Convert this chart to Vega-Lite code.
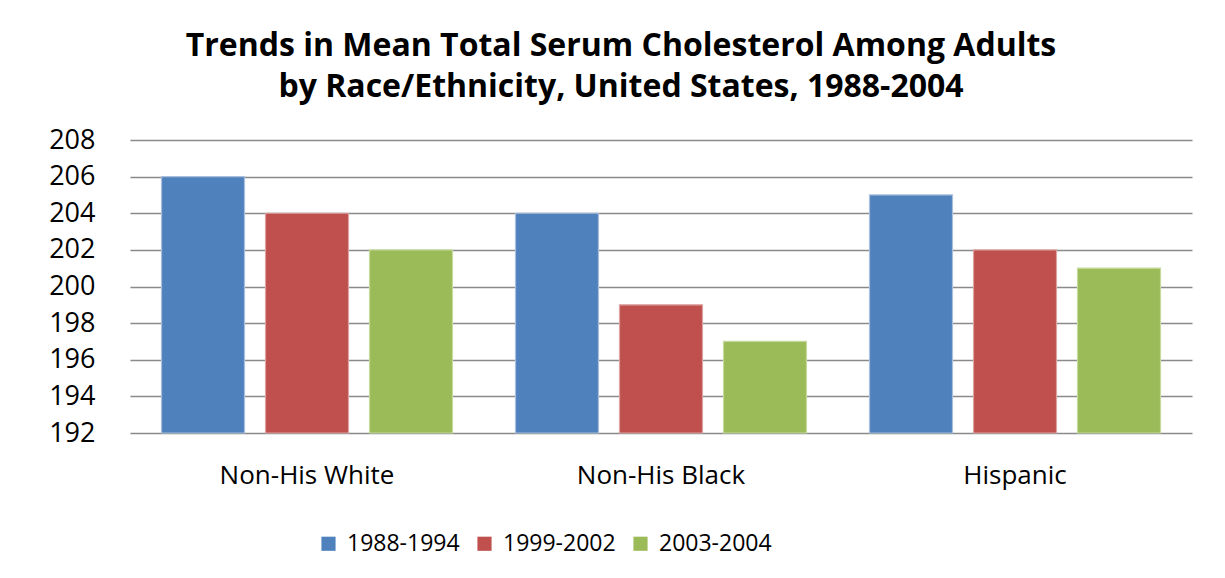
{
  "$schema": "https://vega.github.io/schema/vega-lite/v6.json",
  "autosize": "none",
  "width": 1062,
  "height": 293,
  "padding": {"left": 130, "top": 140, "right": 33, "bottom": 145},
  "background": "white",
  "title": {
    "text": ["Trends in Mean Total Serum Cholesterol Among Adults", "by Race/Ethnicity, United States, 1988-2004"],
    "font": "Open Sans",
    "fontSize": 32,
    "fontWeight": "bold",
    "color": "#000000",
    "anchor": "middle",
    "frame": "group",
    "dx": -40,
    "lineHeight": 41,
    "offset": 22
  },
  "data": {
    "values": [
      {"group": "Non-His White", "period": "1988-1994", "value": 206},
      {"group": "Non-His White", "period": "1999-2002", "value": 204},
      {"group": "Non-His White", "period": "2003-2004", "value": 202},
      {"group": "Non-His Black", "period": "1988-1994", "value": 204},
      {"group": "Non-His Black", "period": "1999-2002", "value": 199},
      {"group": "Non-His Black", "period": "2003-2004", "value": 197},
      {"group": "Hispanic", "period": "1988-1994", "value": 205},
      {"group": "Hispanic", "period": "1999-2002", "value": 202},
      {"group": "Hispanic", "period": "2003-2004", "value": 201}
    ]
  },
  "mark": {"type": "bar", "strokeWidth": 1.2},
  "encoding": {
    "x": {
      "field": "group",
      "type": "nominal",
      "sort": ["Non-His White", "Non-His Black", "Hispanic"],
      "scale": {"paddingInner": 0.178, "paddingOuter": 0.089},
      "axis": {
        "title": null,
        "labelAngle": 0,
        "ticks": false,
        "domain": false,
        "labelFont": "Open Sans",
        "labelFontSize": 26,
        "labelColor": "#000000",
        "labelPadding": 29,
        "labelBaseline": "top"
      }
    },
    "xOffset": {
      "field": "period",
      "type": "nominal",
      "scale": {"paddingInner": 0.202, "paddingOuter": 0}
    },
    "y": {
      "field": "value",
      "type": "quantitative",
      "scale": {"domain": [192, 208], "zero": false, "nice": false},
      "axis": {
        "title": null,
        "values": [192, 194, 196, 198, 200, 202, 204, 206, 208],
        "ticks": false,
        "domain": false,
        "grid": true,
        "gridColor": "#8a8a8a",
        "gridWidth": 1.6,
        "labelFont": "Open Sans",
        "labelFontSize": 27,
        "labelColor": "#000000",
        "labelPadding": 35
      }
    },
    "y2": {"datum": 192},
    "color": {
      "field": "period",
      "type": "nominal",
      "scale": {"domain": ["1988-1994", "1999-2002", "2003-2004"], "range": ["#4F81BD", "#C0504D", "#9BBB59"]},
      "legend": {
        "title": null,
        "orient": "none",
        "direction": "horizontal",
        "legendX": 187,
        "legendY": 392,
        "symbolType": "square",
        "symbolSize": 200,
        "symbolStrokeWidth": 0,
        "labelFont": "Open Sans",
        "labelFontSize": 23,
        "labelColor": "#000000",
        "labelOffset": 7,
        "columnPadding": 13
      }
    },
    "stroke": {
      "field": "period",
      "type": "nominal",
      "scale": {"domain": ["1988-1994", "1999-2002", "2003-2004"], "range": ["#a9bfdc", "#dba3a1", "#c6da9e"]},
      "legend": null
    }
  },
  "config": {
    "view": {"stroke": null}
  }
}
